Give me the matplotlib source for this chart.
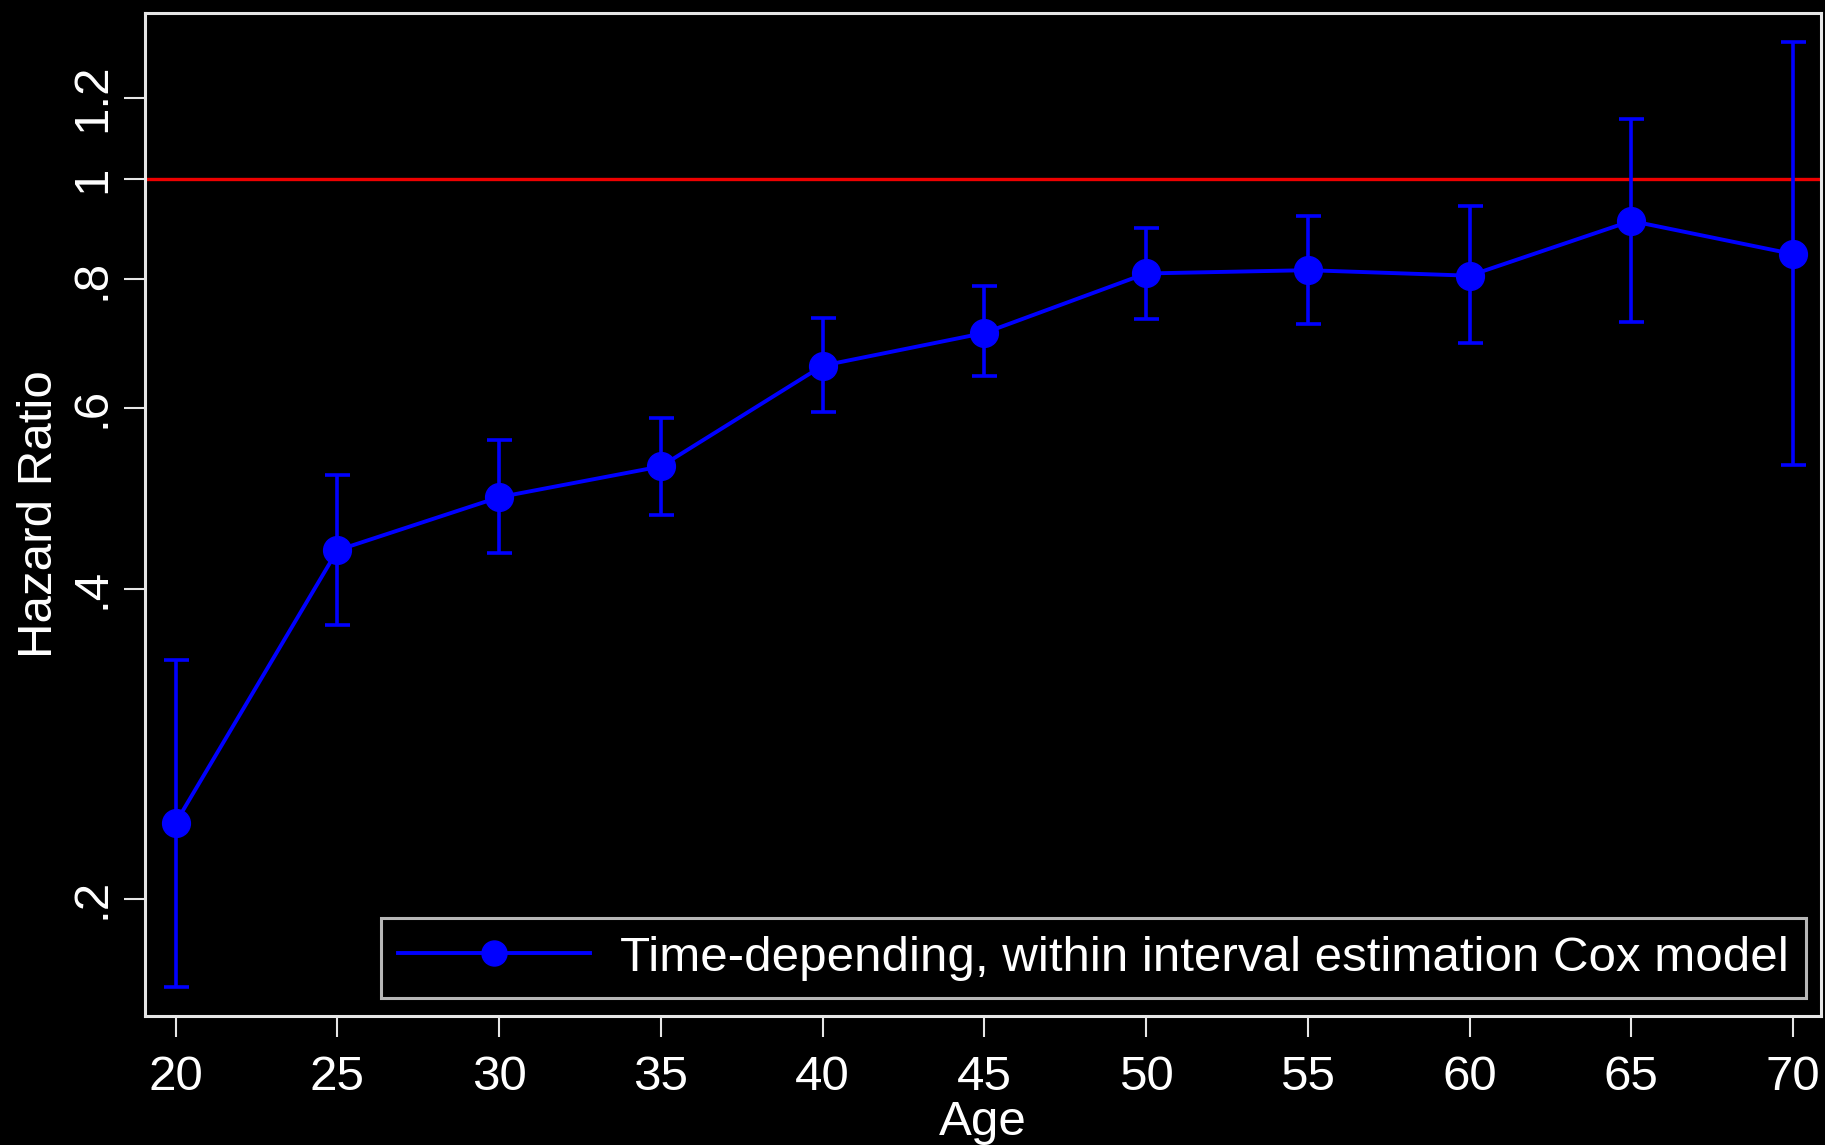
import numpy as np
import matplotlib.pyplot as plt
from matplotlib.ticker import FixedLocator, FixedFormatter, NullLocator

plt.rcParams['font.family'] = ['Liberation Sans', 'DejaVu Sans']

# hazard ratios by age, with 95% CI
age = [20, 25, 30, 35, 40, 45, 50, 55, 60, 65, 70]
hr = [0.237, 0.436, 0.491, 0.526, 0.659, 0.709, 0.810, 0.816, 0.806, 0.911, 0.846]
ci_lo = [0.164, 0.369, 0.433, 0.472, 0.594, 0.644, 0.732, 0.724, 0.693, 0.726, 0.528]
ci_hi = [0.341, 0.516, 0.558, 0.586, 0.733, 0.787, 0.896, 0.922, 0.942, 1.145, 1.360]

y_ticks = [0.2, 0.4, 0.6, 0.8, 1.0, 1.2]
y_ticklabels = ['.2', '.4', '.6', '.8', '1', '1.2']
x_ticks = [20, 25, 30, 35, 40, 45, 50, 55, 60, 65, 70]

legend_label = 'Time-depending, within interval estimation Cox model'

hr = np.array(hr)
yerr = np.vstack([hr - np.array(ci_lo), np.array(ci_hi) - hr])

fs = 35.5

fig = plt.figure(figsize=(18.25, 11.45), dpi=100)
fig.patch.set_facecolor('black')
ax = fig.add_axes([0.0797, 0.1127, 0.918, 0.876])
ax.set_facecolor('black')

# reference line at HR = 1
ax.axhline(1.0, color='#ee0000', lw=2.4, zorder=1)

ax.errorbar(age, hr, yerr=yerr, fmt='none', ecolor='#0000ff',
            elinewidth=2.6, capsize=9, capthick=2.6, zorder=2)
ax.plot(age, hr, '-o', color='#0000ff', lw=2.8, markersize=20,
        label=legend_label, zorder=3)

ax.set_yscale('log')
ax.set_ylim(0.1538, 1.451)
ax.set_xlim(19.065, 70.86)

ax.yaxis.set_major_locator(FixedLocator(y_ticks))
ax.yaxis.set_major_formatter(FixedFormatter(y_ticklabels))
ax.yaxis.set_minor_locator(NullLocator())
ax.set_xticks(x_ticks)

for sp in ax.spines.values():
    sp.set_color('#e6e6e6')
    sp.set_linewidth(2.2)

ax.tick_params(axis='both', colors='#e6e6e6', labelcolor='white',
               length=15, width=1.5, labelsize=fs)
ax.tick_params(axis='x', pad=13)
ax.tick_params(axis='y', pad=7)
for lab in ax.get_yticklabels():
    lab.set_rotation(90)
    lab.set_va('center')

ax.set_xlabel('Age', color='white', fontsize=fs, labelpad=0)
ax.set_ylabel('Hazard Ratio', color='white', fontsize=fs, labelpad=6)

leg = ax.legend(loc='lower right', bbox_to_anchor=(0.991, 0.018),
                borderaxespad=0, fontsize=fs, frameon=True, fancybox=False,
                handlelength=3.9, handletextpad=0.6, borderpad=0.35,
                markerscale=0.9)
leg.get_frame().set_facecolor('black')
leg.get_frame().set_edgecolor('#e6e6e6')
leg.get_frame().set_linewidth(2.2)
for t in leg.get_texts():
    t.set_color('white')

fig.savefig('out.png', dpi=100, facecolor='black')
